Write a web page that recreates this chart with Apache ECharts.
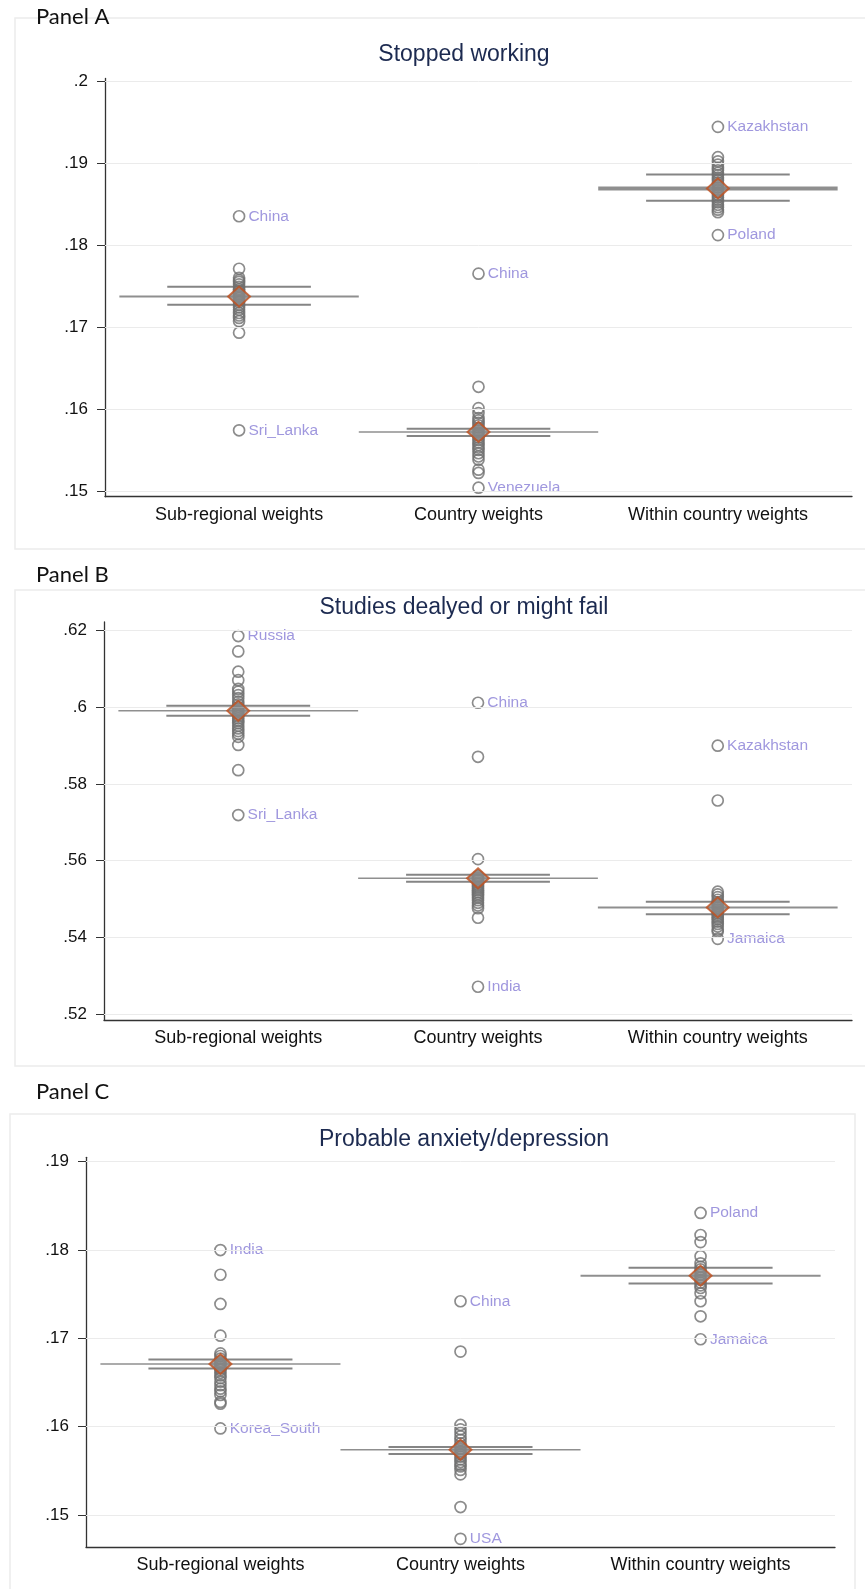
<!DOCTYPE html>
<html>
<head>
<meta charset="utf-8">
<script src="https://cdn.jsdelivr.net/npm/echarts@6/dist/echarts.min.js"></script>
<style>
  html, body { margin: 0; padding: 0; background: #fff; }
  #main { width: 865px; height: 1589px; }
</style>
</head>
<body>
<div id="main"></div>
<script>
const categories = ['Sub-regional weights', 'Country weights', 'Within country weights'];

// Panel A - Stopped working
const aTicks = [0.15, 0.16, 0.17, 0.18, 0.19, 0.2];
const aSub = [0.1771, 0.1760, 0.1757, 0.1755, 0.1752, 0.1749, 0.1746, 0.1744, 0.1741, 0.1739, 0.1737,
  0.1735, 0.1732, 0.1730, 0.1727, 0.1724, 0.1721, 0.1717, 0.1714, 0.1711, 0.1707, 0.1693];
const aCountry = [0.1627, 0.1601, 0.1595, 0.1589, 0.1586, 0.1583, 0.1580, 0.1577, 0.1574, 0.1571, 0.1568,
  0.1565, 0.1562, 0.1559, 0.1556, 0.1553, 0.1550, 0.1546, 0.1542, 0.1538, 0.1526, 0.1522];
const aWithin = [0.1907, 0.1902, 0.1898, 0.1894, 0.1891, 0.1888, 0.1885, 0.1882, 0.1879, 0.1876, 0.1873,
  0.1870, 0.1867, 0.1864, 0.1861, 0.1858, 0.1855, 0.1852, 0.1849, 0.1846, 0.1843, 0.1840];
const aNamed = [[['China', 0.1835], ['Sri_Lanka', 0.1574]],
                [['China', 0.1765], ['Venezuela', 0.1504]],
                [['Kazakhstan', 0.1944], ['Poland', 0.1812]]];
const aMean = [0.1737, 0.1572, 0.1869];
const aCiHigh = [0.1749, 0.1576, 0.1886];
const aCiLow = [0.1727, 0.1567, 0.1854];

// Panel B - Studies delayed
const bTicks = [0.52, 0.54, 0.56, 0.58, 0.6, 0.62];
const bSub = [0.6146, 0.6093, 0.6071, 0.6048, 0.6041, 0.6032, 0.6024, 0.6015, 0.6008, 0.6001, 0.5995,
  0.5989, 0.5983, 0.5977, 0.5971, 0.5965, 0.5959, 0.5952, 0.5945, 0.5938, 0.5931, 0.5923, 0.5902, 0.5836];
const bCountry = [0.5871, 0.5604, 0.5560, 0.5556, 0.5552, 0.5548, 0.5543, 0.5538, 0.5533, 0.5528, 0.5523,
  0.5518, 0.5513, 0.5508, 0.5503, 0.5497, 0.5490, 0.5483, 0.5476, 0.5451];
const bWithin = [0.5757, 0.5519, 0.5512, 0.5505, 0.5498, 0.5492, 0.5487, 0.5482, 0.5477, 0.5472, 0.5467,
  0.5462, 0.5457, 0.5452, 0.5447, 0.5441, 0.5435, 0.5428, 0.5420, 0.5415];
const bNamed = [[['Russia', 0.6186], ['Sri_Lanka', 0.5719]],
                [['China', 0.6012], ['India', 0.5271]],
                [['Kazakhstan', 0.5900], ['Jamaica', 0.5396]]];
const bMean = [0.5991, 0.5554, 0.5478];
const bCiHigh = [0.6004, 0.5563, 0.5493];
const bCiLow = [0.5978, 0.5545, 0.5460];

// Panel C - Probable anxiety/depression
const cTicks = [0.15, 0.16, 0.17, 0.18, 0.19];
const cSub = [0.1772, 0.1739, 0.1703, 0.1683, 0.1680, 0.1677, 0.1674, 0.1672, 0.1670, 0.1668, 0.1666,
  0.1664, 0.1661, 0.1658, 0.1655, 0.1651, 0.1647, 0.1643, 0.1640, 0.1636, 0.1628, 0.1626];
const cCountry = [0.1685, 0.1602, 0.1597, 0.1593, 0.1589, 0.1585, 0.1581, 0.1578, 0.1575, 0.1572, 0.1569,
  0.1566, 0.1563, 0.1560, 0.1557, 0.1555, 0.1551, 0.1546, 0.1509];
const cWithin = [0.1817, 0.1809, 0.1793, 0.1785, 0.1781, 0.1778, 0.1775, 0.1772, 0.1769, 0.1766, 0.1763,
  0.1760, 0.1757, 0.1751, 0.1742, 0.1725];
const cNamed = [[['India', 0.1800], ['Korea_South', 0.1598]],
                [['China', 0.1742], ['USA', 0.1473]],
                [['Poland', 0.1842], ['Jamaica', 0.1699]]];
const cMean = [0.1671, 0.1574, 0.1771];
const cCiHigh = [0.1676, 0.1577, 0.1780];
const cCiLow = [0.1666, 0.1569, 0.1762];

// layout / style (not data)
const panels = [
  { label: 'Panel A', title: 'Stopped working', pts: [aSub, aCountry, aWithin], named: aNamed,
    mean: aMean, hi: aCiHigh, lo: aCiLow, ticks: aTicks, yMin: 0.1493, yMax: 0.2003,
    grid: { left: 105, right: 13, top: 78.5, height: 418.2 },
    labelTop: 6, titleTop: 38, box: [15, 18, 860, 531], meanW: [2, 1.5, 4] },
  { label: 'Panel B', title: 'Studies dealyed or might fail', pts: [bSub, bCountry, bWithin], named: bNamed,
    mean: bMean, hi: bCiHigh, lo: bCiLow, ticks: bTicks, yMin: 0.5184, yMax: 0.6223,
    grid: { left: 104, right: 13, top: 621.9, height: 398.2 },
    labelTop: 564, titleTop: 591, box: [15, 590, 860, 476], meanW: [1.5, 1.5, 2] },
  { label: 'Panel C', title: 'Probable anxiety/depression', pts: [cSub, cCountry, cWithin], named: cNamed,
    mean: cMean, hi: cCiHigh, lo: cCiLow, ticks: cTicks, yMin: 0.1464, yMax: 0.1905,
    grid: { left: 86, right: 30, top: 1157.3, height: 389.5 },
    labelTop: 1081, titleTop: 1123, box: [10, 1114, 845, 500], meanW: [1.5, 1.5, 2] }
];

const FONT = '"Liberation Sans", Arial, sans-serif';
const tickFmt = v => String(+v.toFixed(4)).replace(/^0/, '');

const chart = echarts.init(document.getElementById('main'));

const grids = [], xAxes = [], yAxes = [], titles = [], series = [], graphics = [];

panels.forEach((p, k) => {
  grids.push(p.grid);
  titles.push({
    text: p.title, left: 459, top: p.titleTop, textAlign: 'center',
    textStyle: { fontFamily: FONT, fontSize: 23, fontWeight: 'normal', color: '#1c2a50' }
  });
  graphics.push({
    type: 'rect', shape: { x: p.box[0], y: p.box[1], width: p.box[2], height: p.box[3] },
    style: { fill: 'none', stroke: '#ececec', lineWidth: 1.5 }, silent: true, z: -1
  });
  graphics.push({
    type: 'text', x: 36, y: p.labelTop,
    style: { text: p.label, font: '22px Lato, "Open Sans", sans-serif', fill: '#111' }
  });
  xAxes.push({
    type: 'value', gridIndex: k, min: 0.44, max: 3.56,
    axisLine: { show: true, lineStyle: { color: '#333', width: 1.3 } },
    axisTick: { show: false },
    splitLine: { show: false },
    axisLabel: {
      customValues: [1, 2, 3], margin: 9,
      formatter: v => categories[Math.round(v) - 1] || '',
      fontFamily: FONT, fontSize: 18, color: '#111'
    }
  });
  yAxes.push({
    type: 'value', gridIndex: k, min: p.yMin, max: p.yMax,
    axisLine: { show: true, lineStyle: { color: '#333', width: 1.3 } },
    axisTick: { show: true, length: 8, customValues: p.ticks, lineStyle: { color: '#333', width: 1 } },
    splitLine: { show: false },
    axisLabel: {
      customValues: p.ticks, margin: 17, formatter: tickFmt,
      fontFamily: FONT, fontSize: 17, color: '#111'
    }
  });

  // horizontal grid lines at tick values
  series.push({
    type: 'line', xAxisIndex: k, yAxisIndex: k, data: [], silent: true, z: 0,
    markLine: {
      symbol: 'none', silent: true, label: { show: false }, animation: false,
      lineStyle: { color: '#ebebeb', width: 1, type: 'solid' },
      data: p.ticks.map(t => ({ yAxis: t }))
    }
  });

  for (let c = 0; c < 3; c++) {
    const x = c + 1;
    const seg = (half, y, w, col) => ({
      type: 'line', xAxisIndex: k, yAxisIndex: k, symbol: 'none', silent: true, z: 3,
      lineStyle: { color: col, width: w },
      data: [[x - half, y], [x + half, y]]
    });
    series.push(seg(0.5, p.mean[c], p.meanW[c], '#8f8f8f'));
    series.push(seg(0.3, p.hi[c], 2, '#858585'));
    series.push(seg(0.3, p.lo[c], 2, '#858585'));

    const data = p.pts[c].map(v => [x, v]);
    p.named[c].forEach(([name, v]) => {
      data.push({ value: [x, v], label: { show: true, formatter: name } });
    });
    series.push({
      type: 'scatter', xAxisIndex: k, yAxisIndex: k, z: 4, symbol: 'circle', symbolSize: 11,
      itemStyle: { color: 'rgba(0,0,0,0)', borderColor: '#6f6f6f', borderWidth: 1.7 },
      label: { show: false, position: 'right', distance: 3, color: '#877dd6',
               fontFamily: FONT, fontSize: 15.5 },
      emphasis: { disabled: true },
      data: data
    });
    series.push({
      type: 'scatter', xAxisIndex: k, yAxisIndex: k, z: 5, symbol: 'diamond', symbolSize: [22, 20],
      itemStyle: { color: '#8a8a8a', borderColor: '#c2501e', borderWidth: 2 },
      emphasis: { disabled: true },
      data: [[x, p.mean[c]]]
    });
  }
});

chart.setOption({
  animation: false,
  backgroundColor: '#fff',
  title: titles,
  grid: grids,
  xAxis: xAxes,
  yAxis: yAxes,
  graphic: graphics,
  series: series
});
</script>
</body>
</html>
